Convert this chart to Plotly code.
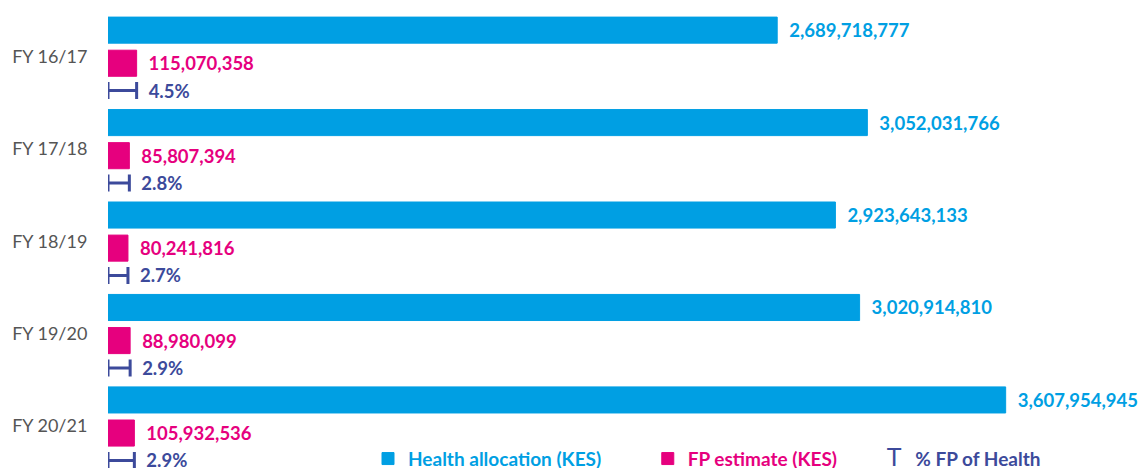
import plotly.graph_objects as go

categories = ["FY 16/17", "FY 17/18", "FY 18/19", "FY 19/20", "FY 20/21"]
health_alloc = [2689718777, 3052031766, 2923643133, 3020914810, 3607954945]
fp_estimate = [115070358, 85807394, 80241816, 88980099, 105932536]
fp_pct_labels = ["4.5%", "2.8%", "2.7%", "2.9%", "2.9%"]

BLUE = "#009fe3"
PINK = "#e6007e"
NAVY = "#3c4a9b"
FONT = "Lato"

n = len(categories)
NBSP = "\u00a0\u00a0"
BAR_H = 0.282  # thickness of bars in category units

# the page body has an 8px margin, so the figure is shrunk/shifted by 8px
SHIFT = 8
FIG_W, FIG_H = 1146 - SHIFT, 468 - SHIFT
LEFT = 108 - SHIFT
UNIT_PX = 92.45
C0 = 56.3 - SHIFT

fig = go.Figure()

fig.add_trace(go.Bar(
    y=categories, x=health_alloc, orientation="h",
    name=f'<span style="color:{BLUE}">Health allocation (KES)</span>' + "\u00a0" * 9,
    marker=dict(color=BLUE, line=dict(color=BLUE, width=1)),
    width=BAR_H, offset=-0.283 - BAR_H / 2,
    text=[f"{v:,}" for v in health_alloc],
    texttemplate=NBSP + "%{text}", textposition="outside",
    textfont=dict(family=FONT, size=18.5, color=BLUE, weight="bold"),
    cliponaxis=False, hoverinfo="skip",
))

fig.add_trace(go.Bar(
    y=categories, x=fp_estimate, orientation="h",
    name=f'<span style="color:{PINK}">FP estimate (KES)</span>' + "\u00a0",
    marker=dict(color=PINK, line=dict(color=PINK, width=1)),
    width=BAR_H, offset=0.075 - BAR_H / 2,
    text=[f"{v:,}" for v in fp_estimate],
    texttemplate=NBSP + "%{text}", textposition="outside",
    textfont=dict(family=FONT, size=18.5, color=PINK, weight="bold"),
    cliponaxis=False, hoverinfo="skip",
))

fig.add_trace(go.Bar(
    y=categories, x=fp_estimate, orientation="h",
    name=(f'<span style="color:{NAVY};font-weight:normal;font-size:25px">T</span>'
          f'\u00a0\u00a0\u00a0<span style="color:{NAVY}">% FP of Health</span>'),
    marker=dict(color="rgba(0,0,0,0)", line=dict(color="rgba(0,0,0,0)", width=0)),
    width=0.16, offset=0.371 - 0.08,
    error_x=dict(type="data", symmetric=False, array=[0] * n,
                 arrayminus=fp_estimate, color=NAVY, thickness=3, width=8.5),
    text=fp_pct_labels,
    texttemplate=NBSP + "%{text}", textposition="outside",
    textfont=dict(family=FONT, size=18.5, color=NAVY, weight="bold"),
    cliponaxis=False, hoverinfo="skip",
))

PX_PER_B = 248.8
PLOT_W = FIG_W - LEFT
fig.update_layout(
    width=FIG_W, height=FIG_H,
    margin=dict(l=LEFT, r=0, t=0, b=0, autoexpand=False),
    barmode="overlay",
    plot_bgcolor="white", paper_bgcolor="white",
    font=dict(family=FONT, size=18, color="#555555"),
    xaxis=dict(range=[0, PLOT_W / PX_PER_B * 1e9], visible=False, showgrid=False,
               zeroline=False),
    yaxis=dict(type="category", categoryorder="array", categoryarray=categories,
               range=[(FIG_H - C0) / UNIT_PX, -C0 / UNIT_PX],
               showgrid=False, zeroline=False, showline=False,
               ticks="outside", ticklen=16, tickcolor="rgba(0,0,0,0)",
               tickfont=dict(family=FONT, size=18, color="#555555")),
    showlegend=True,
    legend=dict(orientation="h", x=(368 - 108) / PLOT_W, xanchor="left",
                y=9.3 / FIG_H, yanchor="middle",
                font=dict(family=FONT, size=19, weight="bold"),
                bgcolor="rgba(0,0,0,0)", traceorder="normal"),
)
for t in fig.data:
    t.constraintext = "none"

fig.write_html("out.html")
